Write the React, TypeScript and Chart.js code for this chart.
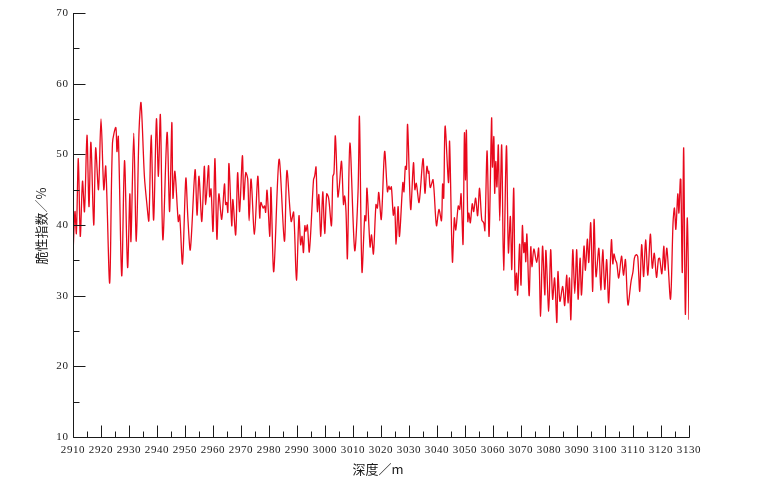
import React, { useEffect, useRef } from "react";
import { Chart, registerables } from "chart.js";

Chart.register(...registerables);

const depth: number[] = [
  2910.0, 2910.7, 2911.2, 2911.9, 2912.6, 2913.4, 2914.1, 2915.0, 2915.7, 2916.4, 2917.4, 2918.1, 2919.1, 2920.0,
  2921.0, 2921.7, 2923.1, 2924.1, 2925.3, 2925.7, 2926.2, 2927.4, 2928.4, 2929.5, 2930.3, 2930.7, 2931.7, 2932.6,
  2933.6, 2934.3, 2935.5, 2936.4, 2937.1, 2937.9, 2938.8, 2939.8, 2940.5, 2941.2, 2942.1, 2943.6, 2944.5, 2945.3,
  2945.7, 2946.4, 2947.6, 2948.1, 2949.1, 2950.3, 2951.0, 2951.9, 2953.6, 2954.3, 2955.0, 2956.0, 2956.9, 2957.4,
  2958.4, 2958.8, 2959.3, 2960.0, 2960.7, 2961.4, 2962.1, 2963.1, 2964.1, 2964.5, 2964.9, 2965.3, 2965.7, 2966.7,
  2967.1, 2968.1, 2968.8, 2969.5, 2970.5, 2971.0, 2971.7, 2972.4, 2972.9, 2973.6, 2974.8, 2976.0, 2976.7, 2977.1,
  2977.9, 2978.4, 2978.8, 2979.3, 2980.3, 2980.7, 2981.7, 2983.6, 2985.5, 2986.4, 2987.9, 2988.8, 2989.8, 2990.7,
  2991.3, 2991.8, 2992.3, 2992.8, 2993.2, 2993.7, 2994.4, 2995.9, 2996.3, 2996.8, 2997.3, 2997.8, 2998.5, 2999.2,
  2999.9, 3000.6, 3001.3, 3002.3, 3002.8, 3003.2, 3003.7, 3004.6, 3005.1, 3005.9, 3006.6, 3007.0, 3007.5, 3008.0,
  3008.9, 3010.6, 3011.8, 3012.3, 3013.2, 3014.2, 3014.6, 3015.0, 3016.1, 3016.6, 3017.3, 3018.2, 3018.7, 3019.2,
  3020.1, 3021.3, 3022.3, 3022.8, 3023.2, 3023.7, 3024.4, 3024.9, 3025.4, 3026.1, 3026.6, 3027.8, 3028.2, 3028.7,
  3029.1, 3029.5, 3030.6, 3031.6, 3032.1, 3032.6, 3033.6, 3035.0, 3035.7, 3036.4, 3036.9, 3037.1, 3037.6, 3038.6,
  3039.8, 3040.7, 3041.6, 3042.0, 3042.4, 3042.9, 3044.1, 3044.5, 3045.5, 3046.2, 3046.7, 3047.6, 3048.1, 3048.6,
  3049.3, 3049.8, 3050.2, 3050.5, 3051.0, 3051.4, 3051.9, 3052.6, 3053.1, 3053.8, 3054.5, 3055.2, 3056.0, 3056.7,
  3057.1, 3057.9, 3058.6, 3059.5, 3059.8, 3060.3, 3060.6, 3061.0, 3061.4, 3061.9, 3062.4, 3063.1, 3063.8, 3064.8,
  3065.5, 3066.2, 3066.7, 3067.4, 3067.9, 3068.4, 3068.8, 3069.5, 3070.0, 3070.5, 3071.0, 3071.4, 3071.7, 3072.1,
  3072.9, 3073.5, 3073.9, 3074.6, 3075.6, 3076.3, 3077.0, 3077.7, 3078.5, 3078.9, 3079.9, 3080.6, 3081.3, 3082.0,
  3082.8, 3083.2, 3083.9, 3084.9, 3085.6, 3086.3, 3086.8, 3087.3, 3087.8, 3088.5, 3089.2, 3089.9, 3090.4, 3091.1,
  3091.6, 3092.5, 3093.0, 3093.7, 3094.2, 3094.9, 3095.6, 3096.1, 3096.8, 3097.8, 3098.5, 3099.2, 3099.9, 3100.6,
  3101.3, 3102.3, 3102.8, 3103.2, 3103.7, 3104.2, 3104.9, 3105.9, 3106.6, 3107.3, 3108.2, 3109.3, 3110.0, 3110.5,
  3111.2, 3111.7, 3112.4, 3113.1, 3113.8, 3114.5, 3115.3, 3116.2, 3116.9, 3117.6, 3118.4, 3119.1, 3119.5, 3120.3,
  3121.0, 3121.4, 3122.1, 3123.4, 3124.3, 3124.8, 3125.3, 3126.0, 3126.4, 3126.9, 3127.1, 3127.6, 3128.1, 3128.7,
  3129.4, 3130.0,
];

const brittleness: number[] = [
  35.8, 41.9, 38.8, 49.4, 38.4, 46.2, 41.9, 52.7, 42.6, 51.7, 40.0, 50.9, 45.0, 55.0,
  45.0, 48.3, 31.8, 51.6, 53.8, 50.4, 52.5, 32.8, 49.1, 34.0, 44.4, 37.7, 53.0, 37.7,
  53.5, 57.3, 46.9, 42.9, 40.6, 52.7, 40.7, 55.0, 46.9, 55.6, 37.9, 53.1, 41.9, 54.5,
  43.8, 47.6, 40.5, 41.4, 34.5, 46.6, 41.2, 36.5, 47.8, 41.4, 46.9, 40.5, 48.3, 42.9,
  48.4, 44.0, 45.1, 39.1, 49.4, 38.0, 44.4, 40.8, 45.8, 42.9, 43.2, 41.8, 48.7, 39.9,
  43.6, 38.6, 47.4, 41.9, 49.8, 43.6, 47.4, 46.5, 40.6, 46.5, 38.7, 46.9, 41.0, 43.2,
  42.4, 42.7, 41.8, 44.9, 38.4, 45.3, 33.4, 49.3, 37.7, 47.7, 40.5, 41.8, 32.2, 41.3,
  37.2, 38.4, 36.1, 39.9, 39.1, 40.0, 36.2, 46.4, 46.9, 48.2, 41.9, 44.3, 38.4, 44.7,
  38.8, 44.4, 43.8, 39.9, 46.9, 47.3, 52.6, 44.0, 45.4, 49.0, 42.9, 44.1, 41.9, 35.3,
  51.6, 36.4, 44.7, 55.3, 33.4, 41.3, 40.6, 45.2, 36.9, 38.6, 35.9, 42.9, 42.4, 44.6,
  40.8, 50.4, 44.7, 45.5, 45.0, 45.4, 41.4, 42.5, 37.3, 42.6, 38.4, 46.0, 44.7, 48.3,
  47.9, 54.2, 42.2, 48.8, 45.0, 45.9, 43.2, 49.4, 44.5, 48.3, 47.3, 47.6, 45.3, 46.4,
  39.9, 42.2, 40.6, 45.8, 43.8, 54.0, 46.0, 51.8, 34.8, 41.0, 39.3, 42.7, 42.2, 44.4,
  37.3, 53.0, 46.4, 53.4, 40.5, 41.7, 40.3, 43.0, 41.9, 43.8, 41.3, 45.2, 40.7, 40.3,
  39.2, 50.5, 38.4, 55.1, 48.2, 52.5, 44.5, 49.0, 45.4, 51.3, 40.6, 51.3, 33.6, 51.2,
  36.1, 41.2, 33.7, 45.2, 30.8, 33.2, 30.1, 37.3, 31.5, 39.9, 36.1, 37.5, 34.8, 38.7,
  30.0, 36.9, 34.1, 36.6, 34.7, 36.7, 27.1, 37.0, 30.1, 36.4, 27.8, 36.5, 29.5, 32.5,
  26.2, 33.4, 29.2, 31.3, 28.6, 32.9, 29.0, 32.5, 26.6, 36.5, 30.3, 36.5, 29.5, 35.3,
  30.1, 37.0, 33.6, 38.0, 34.7, 40.3, 30.6, 40.8, 32.7, 36.7, 30.8, 36.5, 30.9, 35.1,
  29.0, 37.9, 34.5, 35.9, 35.1, 34.6, 32.5, 35.6, 32.9, 35.1, 28.7, 32.0, 33.4, 35.3,
  35.8, 35.5, 30.6, 37.2, 32.7, 37.9, 32.9, 38.7, 33.9, 36.0, 32.6, 35.2, 35.3, 33.1,
  37.0, 33.6, 36.7, 29.5, 40.3, 42.4, 39.4, 44.4, 41.7, 46.5, 46.4, 33.3, 50.9, 27.4,
  41.0, 26.6,
];

const xTickLabels: number[] = [
  2910, 2920, 2930, 2940, 2950, 2960, 2970, 2980, 2990, 3000, 3010, 3020,
  3030, 3040, 3050, 3060, 3070, 3080, 3090, 3100, 3110, 3120, 3130,
];
const yTickLabels: number[] = [10, 20, 30, 40, 50, 60, 70];
const xTitle = "深度／m";
const yTitle = "脆性指数／%";

const axesPlugin = {
  id: "customAxes",
  afterDraw(chart: any) {
    const { ctx, chartArea } = chart;
    const xs = chart.scales.x;
    const ys = chart.scales.y;
    const left = Math.round(chartArea.left) + 0.5;
    const bottom = Math.round(chartArea.bottom) + 0.5;
    const top = Math.round(chartArea.top);
    const right = Math.round(chartArea.right);
    ctx.save();
    ctx.strokeStyle = "#1a1a1a";
    ctx.lineWidth = 1;
    ctx.beginPath();
    ctx.moveTo(left, top);
    ctx.lineTo(left, bottom);
    ctx.lineTo(right + 0.5, bottom);
    ctx.stroke();

    const major = 12;
    const minor = 6;
    ctx.beginPath();
    for (let i = 0; i < yTickLabels.length; i++) {
      const v = yTickLabels[i];
      const py = Math.round(ys.getPixelForValue(v)) + 0.5;
      ctx.moveTo(left, py);
      ctx.lineTo(left + major, py);
      if (i < yTickLabels.length - 1) {
        const my = Math.round(ys.getPixelForValue((v + yTickLabels[i + 1]) / 2)) + 0.5;
        ctx.moveTo(left, my);
        ctx.lineTo(left + minor, my);
      }
    }
    for (let i = 0; i < xTickLabels.length; i++) {
      const v = xTickLabels[i];
      const px = Math.round(xs.getPixelForValue(v)) + 0.5;
      ctx.moveTo(px, bottom);
      ctx.lineTo(px, bottom - major);
      if (i < xTickLabels.length - 1) {
        const mx = Math.round(xs.getPixelForValue((v + xTickLabels[i + 1]) / 2)) + 0.5;
        ctx.moveTo(mx, bottom);
        ctx.lineTo(mx, bottom - minor);
      }
    }
    ctx.stroke();

    ctx.fillStyle = "#1a1a1a";
    ctx.font = '11px "Liberation Serif", "DejaVu Serif", serif';
    try {
      (ctx as any).letterSpacing = "0.6px";
    } catch (e) {}
    ctx.textAlign = "right";
    ctx.textBaseline = "middle";
    for (const v of yTickLabels) {
      ctx.fillText(String(v), left - 5, ys.getPixelForValue(v));
    }
    ctx.textAlign = "center";
    ctx.textBaseline = "top";
    for (const v of xTickLabels) {
      ctx.fillText(String(v), xs.getPixelForValue(v), bottom + 7);
    }
    try {
      (ctx as any).letterSpacing = "0px";
    } catch (e) {}

    ctx.font = '13px "Noto Sans CJK SC", sans-serif';
    ctx.textAlign = "center";
    ctx.textBaseline = "middle";
    ctx.fillText(xTitle, 378, 469);
    ctx.save();
    ctx.translate(41, 226);
    ctx.rotate(-Math.PI / 2);
    ctx.fillText(yTitle, 0, 0);
    ctx.restore();
    ctx.restore();
  },
};

export default function App() {
  const canvasRef = useRef<HTMLCanvasElement | null>(null);

  useEffect(() => {
    const canvas = canvasRef.current;
    if (!canvas) return;
    const points = depth.map((d, i) => ({ x: d, y: brittleness[i] }));
    const chart = new Chart(canvas, {
      type: "line",
      data: {
        datasets: [
          {
            data: points,
            borderColor: "#e8091c",
            borderWidth: 1.3,
            pointRadius: 0,
            tension: 0.3,
            fill: false,
          },
        ],
      },
      options: {
        animation: false,
        responsive: false,
        maintainAspectRatio: false,
        layout: { padding: { left: 73, right: 77, top: 13, bottom: 49 } },
        plugins: { legend: { display: false }, tooltip: { enabled: false } },
        scales: {
          x: { type: "linear", min: 2910, max: 3130, display: false },
          y: { type: "linear", min: 10, max: 70, display: false },
        },
      },
      plugins: [axesPlugin],
    });
    return () => chart.destroy();
  }, []);

  return (
    <div style={{ position: "fixed", left: 0, top: 0, width: 766, height: 486, background: "#fff" }}>
      <canvas ref={canvasRef} width={766} height={486} style={{ width: 766, height: 486, display: "block" }} />
    </div>
  );
}
